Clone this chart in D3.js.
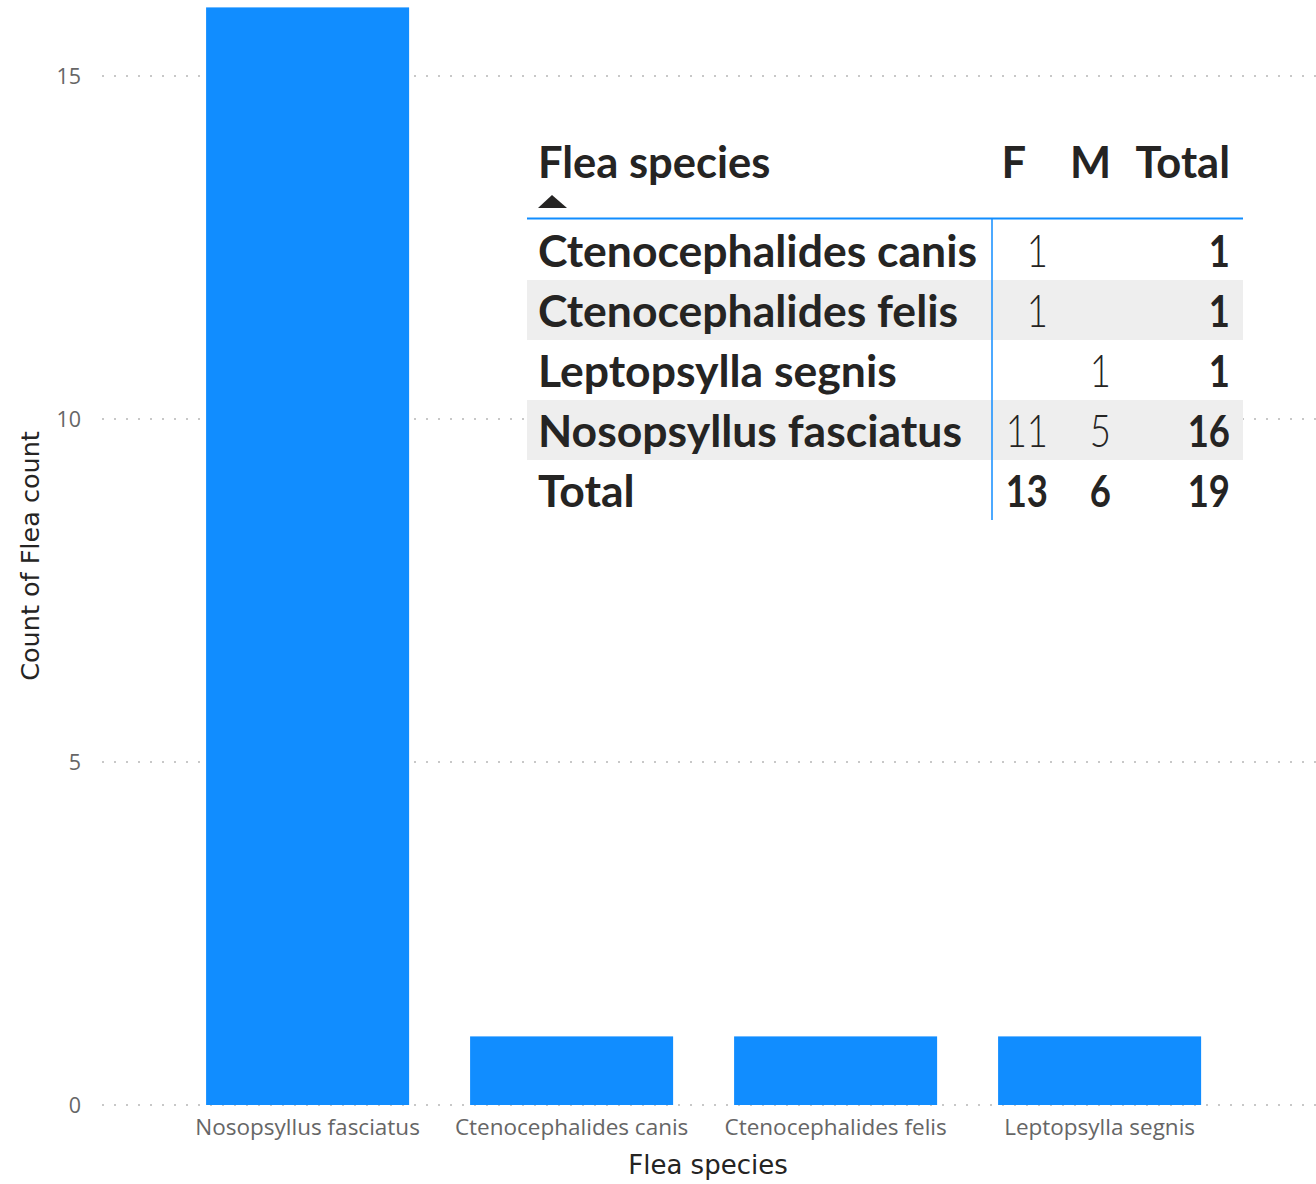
<!DOCTYPE html>
<html><head><meta charset="utf-8">
<script src="https://cdn.jsdelivr.net/npm/d3@7"></script>
<style>body{margin:0;background:#fff}svg{display:block}</style>
</head><body>
<script>
const categories = ["Nosopsyllus fasciatus","Ctenocephalides canis","Ctenocephalides felis","Leptopsylla segnis"];
const counts = [16,1,1,1];
const yTicks = [0,5,10,15];
const tableSpecies = ["Ctenocephalides canis","Ctenocephalides felis","Leptopsylla segnis","Nosopsyllus fasciatus"];
const tableF = [1,1,null,11];
const tableM = [null,null,1,5];
const tableTotal = [1,1,1,16];
const totalRow = ["Total",13,6,19];
const tableHeaders = ["Flea species","F","M","Total"];

const W=1316,H=1184;
const svg=d3.select("body").append("svg").attr("width",W).attr("height",H);
const y=d3.scaleLinear().domain([0,15]).range([1105,76]);
const x=d3.scaleBand().domain(categories).range([175.6,1231.6]).paddingInner(0.231).paddingOuter(0.1155);

// gridlines
const g=svg.append("g");
g.selectAll("line.grid").data(yTicks).join("line").attr("class","grid")
 .attr("x1",102).attr("x2",W).attr("y1",d=>y(d)).attr("y2",d=>y(d))
 .attr("stroke","#c8c8c8").attr("stroke-width",2).attr("stroke-dasharray","2,10").attr("stroke-linecap","butt");

// y axis
const ya=svg.append("g").attr("transform","translate(81,0)")
 .call(d3.axisLeft(y).tickValues(yTicks).tickSize(0).tickPadding(0));
ya.select(".domain").remove();
ya.selectAll("text").attr("font-family","'Open Sans',sans-serif").attr("font-size",21.5).attr("fill","#666").attr("dy","0.35em");

// bars
svg.selectAll("rect.bar").data(categories).join("rect").attr("class","bar")
 .attr("x",d=>x(d)).attr("width",x.bandwidth())
 .attr("y",(d,i)=>y(counts[i])).attr("height",(d,i)=>y(0)-y(counts[i]))
 .attr("fill","#118DFF");

// x axis
const xa=svg.append("g").attr("transform","translate(0,1118)")
 .call(d3.axisBottom(x).tickSize(0).tickPadding(0));
xa.select(".domain").remove();
xa.selectAll("text").attr("font-family","'Open Sans',sans-serif").attr("font-size",22.5).attr("fill","#666").attr("dy","0.75em");

// axis titles
svg.append("text").attr("x",708).attr("y",1174).attr("text-anchor","middle")
 .attr("font-family","'DejaVu Sans',sans-serif").attr("font-size",26).attr("fill","#252423").text("Flea species");
svg.append("text").attr("transform","translate(39,556) rotate(-90)").attr("text-anchor","middle")
 .attr("font-family","'DejaVu Sans',sans-serif").attr("font-size",25.5).attr("fill","#252423").text("Count of Flea count");

// table
const T=svg.append("g");
const tf="'Lato',sans-serif";
const rowY=d3.scaleBand().domain(d3.range(5)).range([220,520]);
const colRight={F:1048,M:1111,Total:1230};
T.selectAll("rect.rowbg").data(d3.range(5).filter(i=>i%2===1)).join("rect")
 .attr("x",527).attr("width",716).attr("y",i=>rowY(i)).attr("height",rowY.bandwidth()).attr("fill","#eeeeee");
const hs=43.5;
T.append("text").attr("x",538).attr("y",178).attr("font-family",tf).attr("font-weight",700).attr("font-size",hs).attr("fill","#252423").text(tableHeaders[0]);
[1026,1111,1230].forEach((xr,k)=>{
  T.append("text").attr("x",xr).attr("y",178).attr("text-anchor","end").attr("font-family",tf).attr("font-weight",700).attr("font-size",hs).attr("fill","#252423").text(tableHeaders[k+1]);
});
T.append("path").attr("d","M538,208L552,195L567,208Z").attr("fill","#252423");
T.append("line").attr("x1",527).attr("x2",1243).attr("y1",218.5).attr("y2",218.5).attr("stroke","#118DFF").attr("stroke-width",2);
T.append("line").attr("x1",992).attr("x2",992).attr("y1",218).attr("y2",520).attr("stroke","#118DFF").attr("stroke-width",1.5);
const fs=44.5;
function cell(xp,cy,txt,anchor,weight){
  T.append("text").attr("x",xp).attr("y",cy).attr("dy","0.38em").attr("text-anchor",anchor)
   .attr("font-family",tf).attr("font-weight",weight).attr("font-size",fs).attr("fill","#252423").text(txt);
}
function num(xr,cy,txt,weight){
  T.append("text").attr("transform",`translate(${xr},${cy}) scale(0.82,1)`).attr("dy","0.38em").attr("text-anchor","end")
   .attr("font-family",tf).attr("font-weight",weight).attr("font-size",fs).attr("fill","#252423").text(txt);
}
tableSpecies.forEach((s,i)=>{
  const cy=rowY(i)+rowY.bandwidth()/2;
  cell(538,cy,s,"start",700);
  if(tableF[i]!=null) num(colRight.F,cy,tableF[i],300);
  if(tableM[i]!=null) num(colRight.M,cy,tableM[i],300);
  num(colRight.Total,cy,tableTotal[i],700);
});
{
  const cy=rowY(4)+rowY.bandwidth()/2;
  cell(538,cy,totalRow[0],"start",700);
  num(colRight.F,cy,totalRow[1],700);
  num(colRight.M,cy,totalRow[2],700);
  num(colRight.Total,cy,totalRow[3],700);
}
</script>
</body></html>
